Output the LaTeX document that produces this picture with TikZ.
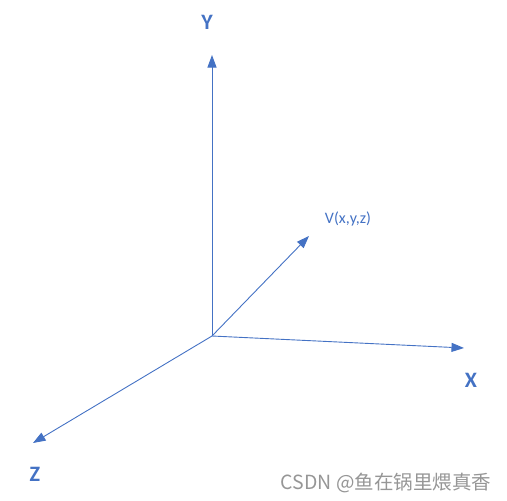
\documentclass[tikz,border=0pt]{standalone}
\usepackage{fontspec}
\setmainfont{Carlito}
\newfontfamily\cjk{Noto Sans CJK SC}
\definecolor{axisblue}{RGB}{68, 114, 196}
\definecolor{markgray}{RGB}{150, 150, 150}
\usetikzlibrary{arrows.meta, positioning}

\begin{document}
\begin{tikzpicture}[x=1pt, y=-1pt,
  axis/.style={draw=axisblue, line width=0.9pt, -{Triangle[length=12.5pt, width=9pt]}},
  axislabel/.style={text=axisblue, font=\bfseries\fontsize{22}{22}\selectfont, inner sep=0pt}]
  \useasboundingbox (0,0) rectangle (507,501);
  \coordinate (origin) at (212,336);
  \coordinate (ytip) at (212,55);
  \coordinate (xtip) at (464,348);
  \coordinate (ztip) at (33,443);
  \coordinate (vtip) at (309,236);
  \draw[axis] (origin) -- (ytip);
  \draw[axis] (origin) -- (xtip);
  \draw[axis] (origin) -- (ztip);
  \draw[axis] (origin) -- (vtip);
  \node[axislabel] (ylabel) at (207,22) {Y};
  \node[axislabel] (xlabel) at (471,380) {X};
  \node[axislabel] (zlabel) at (35,474) {Z};
  \node[text=axisblue, font=\fontsize{16}{16}\selectfont, inner sep=0pt] (vlabel) at (348,219) {V(x,y,z)};
  \node[text=markgray, font=\cjk\fontsize{19.5}{19.5}\selectfont, inner sep=0pt] (mark) at (386,483) {CSDN @鱼在锅里煨真香};
\end{tikzpicture}
\end{document}
